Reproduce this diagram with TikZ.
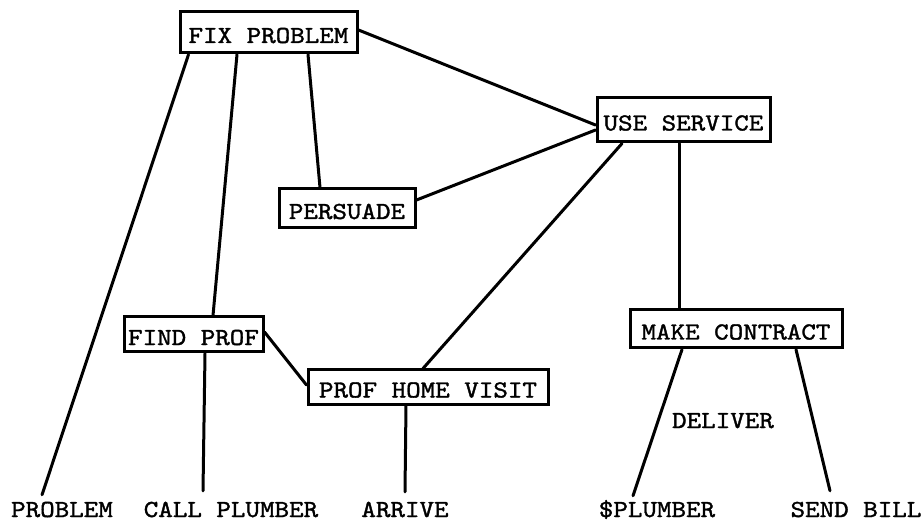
\documentclass[tikz,border=0pt]{standalone}
\usepackage{fontspec}
\newfontfamily\twfam{lmmono10-regular}[Extension=.otf, FakeStretch=1.13, FakeBold=1.4]
\newcommand\twfont{\twfam\fontsize{24.5}{28}\selectfont}
\begin{document}
\begin{tikzpicture}[x=1pt,y=-1pt,
  font=\twfont,
  box/.style={draw, line width=3pt, inner sep=0pt, text height=21pt, text depth=0pt, align=center},
  lbl/.style={inner sep=0pt, text height=14pt, text depth=0pt, anchor=base},
  conn/.style={line width=3pt, line cap=round}]
\useasboundingbox[fill=white] (0,0) rectangle (924,521);
% boxes
\node[box, minimum width=177pt, minimum height=41pt] (fix) at (268.5,32.5) {FIX PROBLEM};
\node[box, minimum width=173pt, minimum height=44pt] (use) at (683.5,120) {USE SERVICE};
\node[box, minimum width=136pt, minimum height=39pt] (persuade) at (347,208.5) {PERSUADE};
\node[box, minimum width=139pt, minimum height=35pt] (find) at (193.5,334.5) {FIND PROF};
\node[box, minimum width=240pt, minimum height=34pt] (visit) at (428,387) {PROF HOME VISIT};
\node[box, minimum width=212pt, minimum height=38pt] (contract) at (736,329) {MAKE CONTRACT};
% labels
\node[lbl] (problem) at (62,517) {PROBLEM};
\node[lbl] (call) at (231,517) {CALL PLUMBER};
\node[lbl] (arrive) at (405,517) {ARRIVE};
\node[lbl] (plumber) at (657,517) {\$PLUMBER};
\node[lbl] (bill) at (856,517) {SEND BILL};
\node[lbl] (deliver) at (723,428) {DELIVER};
% connectors
\draw[conn] ([xshift=10pt]fix.south west) -- ([xshift=-20pt,yshift=8pt]problem.north);
\draw[conn] ([xshift=-31.5pt]fix.south) -- ([xshift=19.5pt]find.north);
\draw[conn] ([xshift=11.5pt]find.south) -- ([xshift=-28pt,yshift=12pt]call.north);
\draw[conn] ([xshift=39.5pt]fix.south) -- ([xshift=-27pt]persuade.north);
\draw[conn] ([yshift=2.5pt]fix.east) -- ([yshift=-5pt]use.west);
\draw[conn] ([yshift=8.5pt]persuade.east) -- ([yshift=-10pt]use.west);
\draw[conn] ([xshift=-61.5pt]use.south) -- ([xshift=-5pt]visit.north);
\draw[conn] ([xshift=-4.5pt]use.south) -- ([xshift=-57pt]contract.north);
\draw[conn] ([yshift=2.5pt]find.east) -- ([yshift=2pt]visit.west);
\draw[conn] ([xshift=-22pt]visit.south) -- ([yshift=11pt]arrive.north);
\draw[conn] ([xshift=-54pt]contract.south) -- ([xshift=-24pt,yshift=7pt]plumber.north);
\draw[conn] ([xshift=60pt]contract.south) -- ([xshift=-26pt,yshift=12pt]bill.north);
\end{tikzpicture}
\end{document}
